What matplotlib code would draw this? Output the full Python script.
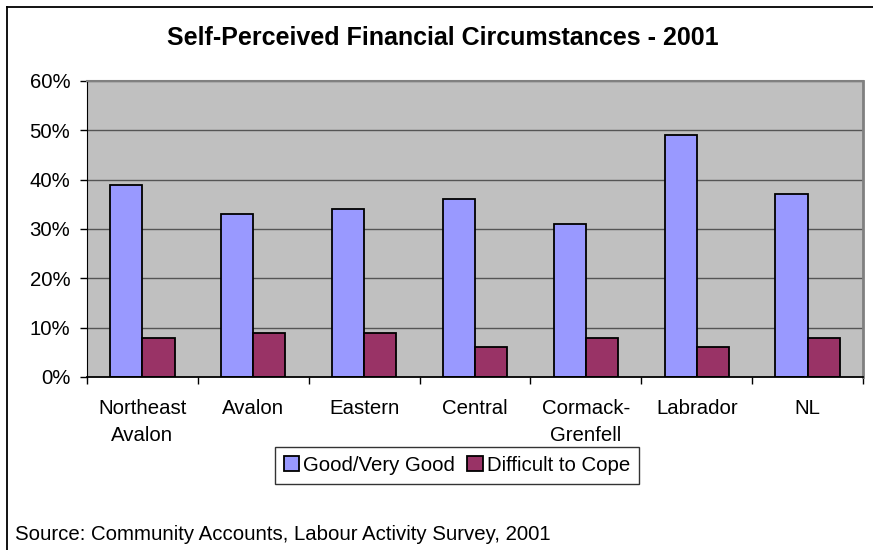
import matplotlib
matplotlib.use("Agg")
import matplotlib.pyplot as plt
from matplotlib.patches import Patch
from matplotlib.lines import Line2D
import numpy as np

plt.rcParams['font.family'] = ['Liberation Sans', 'DejaVu Sans']

categories = ["Northeast\nAvalon", "Avalon", "Eastern", "Central", "Cormack-\nGrenfell", "Labrador", "NL"]
good = [39, 33, 34, 36, 31, 49, 37]
difficult = [8, 9, 9, 6, 8, 6, 8]
series_names = ["Good/Very Good", "Difficult to Cope"]
yticks = [0, 10, 20, 30, 40, 50, 60]
ytick_labels = ["0%", "10%", "20%", "30%", "40%", "50%", "60%"]
title = "Self-Perceived Financial Circumstances - 2001"
source = "Source: Community Accounts, Labour Activity Survey, 2001"

FS = 14.7
W, H = 873, 550
fig = plt.figure(figsize=(W / 100, H / 100), dpi=100)
fig.patch.set_facecolor("white")

ax = fig.add_axes([87 / W, 1 - 377 / H, (863 - 87) / W, (377 - 81) / H])
ax.set_facecolor("#C0C0C0")

x = np.arange(len(categories))
bw = 0.29
ax.bar(x - bw / 2, good, bw, color="#9999FF", edgecolor="black", linewidth=1.3, zorder=3)
ax.bar(x + bw / 2, difficult, bw, color="#993366", edgecolor="black", linewidth=1.3, zorder=3)

ax.set_xlim(-0.5, len(categories) - 0.5)
ax.set_ylim(0, 60)
ax.set_yticks(yticks)
ax.set_yticklabels(ytick_labels)
for v in yticks[1:]:
    ax.axhline(v, color="#555555", linewidth=1.0, zorder=1)

ax.set_xticks(x)
ax.set_xticklabels(categories, linespacing=1.55)
ax.set_xticks(np.arange(len(categories) + 1) - 0.5, minor=True)
ax.tick_params(axis="x", which="major", length=0, pad=16, labelsize=FS)
ax.tick_params(axis="x", which="minor", length=5, width=1, color="black", direction="out")
ax.tick_params(axis="y", length=5, width=1, pad=7, labelsize=FS, color="black")

ax.spines["left"].set_color("black")
ax.spines["bottom"].set_color("black")
ax.spines["bottom"].set_linewidth(1.3)
ax.spines["top"].set_color("#808080")
ax.spines["right"].set_color("#808080")
ax.spines["top"].set_linewidth(1.5)
ax.spines["right"].set_linewidth(2.0)
ax.spines["bottom"].set_zorder(4)

fig.text(443 / W, 1 - 38 / H, title, ha="center", va="center", fontsize=18, fontweight="bold")
fig.text(15 / W, 1 - 535 / H, source, ha="left", va="center", fontsize=FS)

handles = [Patch(facecolor="#9999FF", edgecolor="black", linewidth=1.3),
           Patch(facecolor="#993366", edgecolor="black", linewidth=1.3)]
leg = fig.legend(handles, series_names, loc="center", bbox_to_anchor=(457 / W, 1 - 465.5 / H),
                 ncol=2, fontsize=FS, frameon=True, fancybox=False, handlelength=0.75,
                 handleheight=0.75, handletextpad=0.2, columnspacing=0.6, borderpad=0.45,
                 borderaxespad=0)
leg.get_frame().set_edgecolor("black")
leg.get_frame().set_linewidth(1.0)

fig.add_artist(Line2D([7 / W, 7 / W], [0, 1 - 7 / H], color="black", linewidth=1.3, transform=fig.transFigure))
fig.add_artist(Line2D([7 / W, 1], [1 - 7 / H, 1 - 7 / H], color="black", linewidth=1.3, transform=fig.transFigure))

fig.savefig("out.png", dpi=100)
